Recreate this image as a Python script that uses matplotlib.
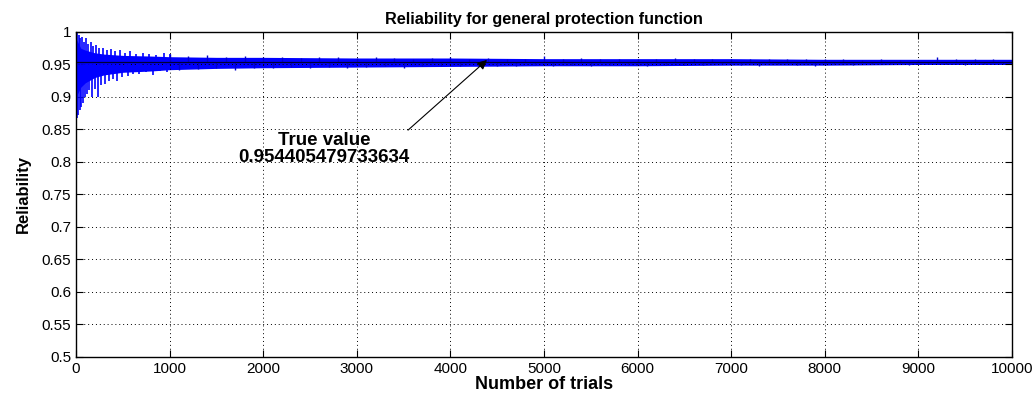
import numpy as np
import matplotlib.pyplot as plt

plt.rcParams['font.family'] = ['Liberation Sans', 'DejaVu Sans']

true_value = 0.954405479733634

# envelope of the dense simulation trace
env_trials = [0, 50, 100, 200, 300, 500, 800, 1000, 1500, 2000, 3000, 4000,
              5000, 6000, 7000, 8000, 9000, 10000]
env_upper = [0.99, 0.975, 0.972, 0.968, 0.966, 0.964, 0.963, 0.962, 0.961, 0.961,
             0.960, 0.960, 0.959, 0.959, 0.959, 0.958, 0.958, 0.958]
env_lower = [0.9, 0.915, 0.922, 0.93, 0.934, 0.938, 0.940, 0.942, 0.944, 0.945,
             0.946, 0.947, 0.948, 0.948, 0.949, 0.949, 0.950, 0.950]

# spikes of the early part
early_trials = [1, 8, 15, 22, 30, 38, 46, 55, 64, 74, 84, 95, 106, 118, 130, 143,
                156, 170, 185, 200, 216, 232, 250, 268, 287, 306, 326, 347, 369,
                392, 416, 441, 467, 494, 522, 551, 581, 612, 644, 677, 711, 746,
                782, 819, 857, 896, 936, 977, 1000]
early_vals = [1.0, 0.868, 0.998, 0.872, 0.995, 0.88, 0.99, 0.885, 0.992, 0.89,
              0.985, 0.9, 0.99, 0.905, 0.982, 0.91, 0.985, 0.9, 0.978, 0.912,
              0.98, 0.9, 0.975, 0.918, 0.976, 0.92, 0.972, 0.925, 0.974, 0.928,
              0.97, 0.924, 0.972, 0.93, 0.968, 0.932, 0.97, 0.935, 0.966, 0.936,
              0.968, 0.938, 0.966, 0.934, 0.965, 0.94, 0.967, 0.938, 0.966]

# spikes of the later part, every 100 trials
late_trials = list(range(1000, 10001, 100))
late_vals = [0.966, 0.941, 0.963, 0.943, 0.964, 0.944, 0.962, 0.942, 0.963, 0.945,
             0.961, 0.944, 0.962, 0.946, 0.960, 0.945, 0.961, 0.946, 0.962, 0.944,
             0.960, 0.946, 0.961, 0.947, 0.960, 0.945, 0.959, 0.947, 0.960, 0.948,
             0.961, 0.947, 0.959, 0.948, 0.960, 0.948, 0.959, 0.947, 0.959, 0.949,
             0.963, 0.948, 0.959, 0.949, 0.960, 0.948, 0.959, 0.949, 0.958, 0.949,
             0.959, 0.948, 0.958, 0.949, 0.960, 0.949, 0.958, 0.949, 0.959, 0.950,
             0.959, 0.949, 0.958, 0.948, 0.958, 0.950, 0.958, 0.949, 0.959, 0.947,
             0.958, 0.950, 0.958, 0.949, 0.957, 0.950, 0.958, 0.950, 0.957, 0.949,
             0.957, 0.950, 0.962, 0.950, 0.958, 0.949, 0.958, 0.950, 0.959, 0.950,
             0.957]

fig = plt.figure(figsize=(10.36, 3.97), dpi=100)
ax = fig.add_axes([0.0734, 0.1008, 0.9034, 0.8186])

ax.fill_between(env_trials, env_lower, env_upper, color='#0000ff', lw=0)
ax.vlines(early_trials, true_value, early_vals, color='#0000ff', lw=1.2)
ax.vlines(late_trials, true_value, late_vals, color='#0000cc', lw=1.0)
ax.axhline(true_value, color='#000033', lw=0.9)

ax.text(2650, 0.82, 'True value\n0.954405479733634', ha='center', va='center',
        fontsize=13.5, fontweight='bold', linespacing=1.0)
ax.annotate('', xy=(4391, 0.957), xytext=(3547, 0.849),
            arrowprops=dict(arrowstyle='-|>', color='black', lw=0.8,
                            shrinkA=0, shrinkB=0, mutation_scale=14))

ax.set_xlim(0, 10000)
ax.set_ylim(0.5, 1.0)
ax.set_xticks(np.arange(0, 10001, 1000))
ax.set_yticks(np.arange(0.5, 1.001, 0.05))
ax.set_yticklabels(['0.5', '0.55', '0.6', '0.65', '0.7', '0.75', '0.8', '0.85',
                    '0.9', '0.95', '1'])
ax.grid(True, color='black', linestyle=(0, (1, 3)), lw=0.7)
ax.tick_params(direction='in', top=True, right=True, length=5, labelsize=11)
for s in ax.spines.values():
    s.set_linewidth(1.0)

ax.set_title('Reliability for general protection function', fontsize=11.7,
             fontweight='bold', pad=6)
ax.set_xlabel('Number of trials', fontsize=13, fontweight='bold', labelpad=0)
ax.set_ylabel('Reliability', fontsize=12, fontweight='bold', labelpad=8)

fig.savefig('out.png', dpi=100)
